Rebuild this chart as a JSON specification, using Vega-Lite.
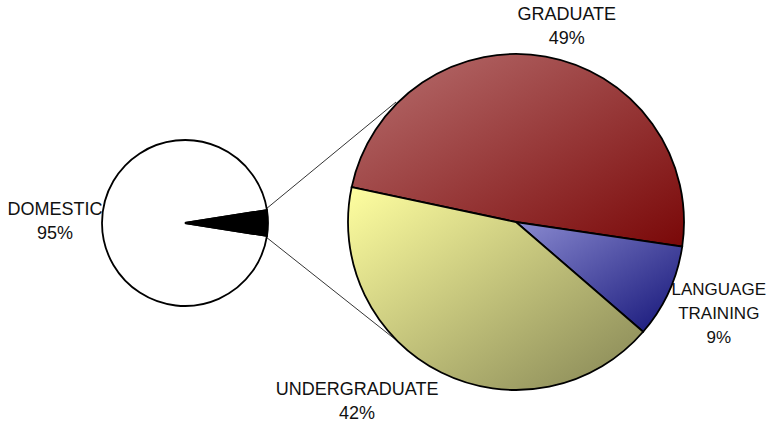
{
  "$schema": "https://vega.github.io/schema/vega-lite/v6.json",
  "width": 768,
  "height": 425,
  "padding": 0,
  "autosize": {"type": "none"},
  "background": "white",
  "config": {"view": {"stroke": null}},
  "data": {
    "values": [
      {"pie": "primary", "category": "DOMESTIC", "value": 95},
      {"pie": "primary", "category": "INTERNATIONAL", "value": 5},
      {"pie": "secondary", "category": "GRADUATE", "value": 49},
      {"pie": "secondary", "category": "LANGUAGE TRAINING", "value": 9},
      {"pie": "secondary", "category": "UNDERGRADUATE", "value": 42}
    ]
  },
  "transform": [
    {"stack": "value", "groupby": ["pie"], "sort": [{"field": "category", "order": "ascending"}], "as": ["v0", "v1"]},
    {"calculate": "(datum.v0 + datum.v1) / 2", "as": "vm"},
    {"calculate": "replace(datum.category, ' ', '\\n') + '\\n' + datum.value + '%'", "as": "label"}
  ],
  "resolve": {"scale": {"theta": "independent"}},
  "layer": [
    {
      "transform": [{"filter": "datum.category == 'INTERNATIONAL'"}],
      "mark": {"type": "rule", "stroke": "black", "strokeWidth": 0.8},
      "encoding": {"x": {"value": 266}, "y": {"value": 209}, "x2": {"value": 396}, "y2": {"value": 102}}
    },
    {
      "transform": [{"filter": "datum.category == 'INTERNATIONAL'"}],
      "mark": {"type": "rule", "stroke": "black", "strokeWidth": 0.8},
      "encoding": {"x": {"value": 266}, "y": {"value": 237}, "x2": {"value": 396}, "y2": {"value": 340}}
    },
    {
      "transform": [{"filter": "datum.pie == 'primary'"}],
      "mark": {"type": "arc", "x": 185, "y": 223, "outerRadius": 83, "stroke": "black", "strokeWidth": 1.8},
      "encoding": {
        "theta": {"field": "v0", "type": "quantitative", "stack": null, "scale": {"domain": [0, 100], "range": [1.72788, 8.01106]}},
        "theta2": {"field": "v1"},
        "fill": {"field": "category", "type": "nominal", "scale": {"domain": ["DOMESTIC", "INTERNATIONAL"], "range": ["white", "black"]}, "legend": null}
      }
    },
    {
      "transform": [{"filter": "datum.category == 'GRADUATE'"}],
      "mark": {"type": "arc", "x": 516, "y": 222, "outerRadius": 168, "stroke": "black", "strokeWidth": 1.8,
        "fill": {"gradient": "linear", "x1": 0, "y1": 0, "x2": 1, "y2": 1, "stops": [{"offset": 0, "color": "#b87070"}, {"offset": 1, "color": "#7a0808"}]}},
      "encoding": {
        "theta": {"field": "v0", "type": "quantitative", "stack": null, "scale": {"domain": [0, 100], "range": [-1.36136, 4.92183]}},
        "theta2": {"field": "v1"}
      }
    },
    {
      "transform": [{"filter": "datum.category == 'LANGUAGE TRAINING'"}],
      "mark": {"type": "arc", "x": 516, "y": 222, "outerRadius": 168, "stroke": "black", "strokeWidth": 1.8,
        "fill": {"gradient": "linear", "x1": 0, "y1": 0, "x2": 1, "y2": 1, "stops": [{"offset": 0, "color": "#8a8ad0"}, {"offset": 1, "color": "#141478"}]}},
      "encoding": {
        "theta": {"field": "v0", "type": "quantitative", "stack": null, "scale": {"domain": [0, 100], "range": [-1.36136, 4.92183]}},
        "theta2": {"field": "v1"}
      }
    },
    {
      "transform": [{"filter": "datum.category == 'UNDERGRADUATE'"}],
      "mark": {"type": "arc", "x": 516, "y": 222, "outerRadius": 168, "stroke": "black", "strokeWidth": 1.8,
        "fill": {"gradient": "linear", "x1": 0, "y1": 0, "x2": 1, "y2": 1, "stops": [{"offset": 0, "color": "#ffffa0"}, {"offset": 1, "color": "#858555"}]}},
      "encoding": {
        "theta": {"field": "v0", "type": "quantitative", "stack": null, "scale": {"domain": [0, 100], "range": [-1.36136, 4.92183]}},
        "theta2": {"field": "v1"}
      }
    },
    {
      "transform": [{"filter": "datum.category == 'DOMESTIC'"}],
      "mark": {"type": "text", "x": 185, "y": 223, "radius": 130, "dy": -13, "font": "Liberation Sans", "fontSize": 18, "lineBreak": "\n", "lineHeight": 24, "align": "center", "baseline": "middle", "color": "#111111"},
      "encoding": {
        "theta": {"field": "vm", "type": "quantitative", "stack": null, "scale": {"domain": [0, 100], "range": [1.72788, 8.01106]}},
        "text": {"field": "label"}
      }
    },
    {
      "transform": [{"filter": "datum.category == 'GRADUATE'"}],
      "mark": {"type": "text", "x": 516, "y": 222, "radius": 202, "dx": 15, "dy": -8, "font": "Liberation Sans", "fontSize": 18, "lineBreak": "\n", "lineHeight": 24, "align": "center", "baseline": "middle", "color": "#111111"},
      "encoding": {
        "theta": {"field": "vm", "type": "quantitative", "stack": null, "scale": {"domain": [0, 100], "range": [-1.36136, 4.92183]}},
        "text": {"field": "label"}
      }
    },
    {
      "transform": [{"filter": "datum.category == 'LANGUAGE TRAINING'"}],
      "mark": {"type": "text", "x": 516, "y": 222, "radius": 223, "dx": 0, "dy": -25, "font": "Liberation Sans", "fontSize": 17, "lineBreak": "\n", "lineHeight": 24, "align": "center", "baseline": "middle", "color": "#111111"},
      "encoding": {
        "theta": {"field": "vm", "type": "quantitative", "stack": null, "scale": {"domain": [0, 100], "range": [-1.36136, 4.92183]}},
        "text": {"field": "label"}
      }
    },
    {
      "transform": [{"filter": "datum.category == 'UNDERGRADUATE'"}],
      "mark": {"type": "text", "x": 516, "y": 222, "radius": 200, "dx": -70, "dy": -11, "font": "Liberation Sans", "fontSize": 18, "lineBreak": "\n", "lineHeight": 24, "align": "center", "baseline": "middle", "color": "#111111"},
      "encoding": {
        "theta": {"field": "vm", "type": "quantitative", "stack": null, "scale": {"domain": [0, 100], "range": [-1.36136, 4.92183]}},
        "text": {"field": "label"}
      }
    }
  ]
}
